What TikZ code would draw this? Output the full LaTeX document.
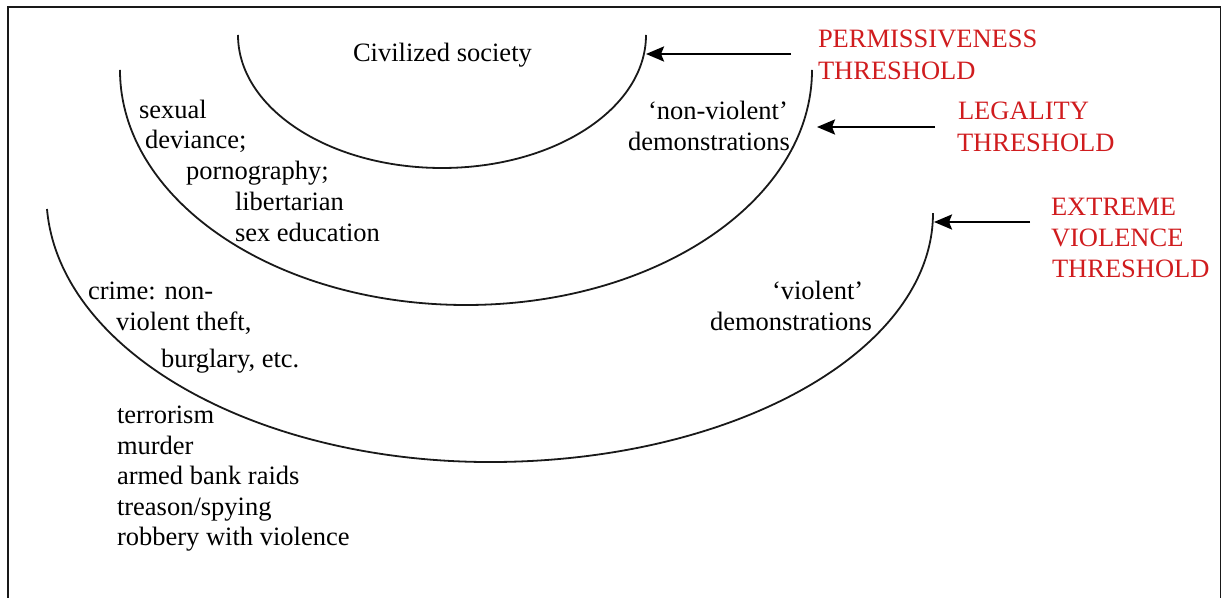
\documentclass[tikz,border=0pt]{standalone}
\usepackage{fontspec}
\setmainfont{Liberation Serif}
\usetikzlibrary{arrows.meta}
\definecolor{thred}{RGB}{208,28,30}
\definecolor{ink}{RGB}{25,25,25}
\begin{document}
\begin{tikzpicture}[x=0.5pt,y=-0.5pt,
  txt/.style={anchor=base west,inner sep=0pt,outer sep=0pt,text=black,
    font=\fontsize{13.25pt}{15.5pt}\selectfont},
  redtxt/.style={txt,text=thred},
  arcline/.style={draw=ink,line width=0.9pt},
  thrarrow/.style={draw=black,line width=1.2pt,-{Stealth[length=9pt,width=7.5pt,inset=1.5pt]}},
  framebox/.style={draw=ink,line width=0.9pt}]
\clip (0,0) rectangle (1225,598);
\fill[white] (0,0) rectangle (1225,598);
\draw[framebox] (8,7) rectangle (1220.5,640);
% threshold curves
\draw[arcline] (238,35) arc[start angle=180,end angle=360,x radius=102pt,y radius=66.5pt];
\draw[arcline] (120,70) arc[start angle=180,end angle=360,x radius=173pt,y radius=117.5pt];
\draw[arcline] (47,209) arc[start angle=183,end angle=270,x radius=221.8pt,y radius=133.5pt]
  arc[start angle=270,end angle=360,x radius=221.5pt,y radius=124.5pt];
% texts
\node[txt] (civ) at (353,62) {Civilized society};
\node[txt] (sexual) at (139,119) {sexual};
\node[txt] (deviance) at (145,149) {deviance;};
\node[txt] (porno) at (186,180) {pornography;};
\node[txt] (libert) at (235,211) {libertarian};
\node[txt] (sexed) at (235,242) {sex education};
\node[txt] (nonviol) at (648,120) {‘non-violent’};
\node[txt] (demoA) at (628,151) {demonstrations};
\node[txt] (crime) at (88,300) {crime: non-};
\node[txt] (theft) at (116,331) {violent theft,};
\node[txt] (burg) at (161,367) {burglary, etc.};
\node[txt] (viol) at (772,300) {‘violent’};
\node[txt] (demoB) at (710,331) {demonstrations};
\node[txt] (terr) at (117,423) {terrorism};
\node[txt] (murd) at (117,454) {murder};
\node[txt] (armed) at (117,484) {armed bank raids};
\node[txt] (treas) at (117,515) {treason/spying};
\node[txt] (robb) at (117,545) {robbery with violence};
% threshold labels
\node[redtxt] (permA) at (818,48) {PERMISSIVENESS};
\node[redtxt] (permB) at (818,80) {THRESHOLD};
\node[redtxt] (legA) at (958,120) {LEGALITY};
\node[redtxt] (legB) at (957,152) {THRESHOLD};
\node[redtxt] (extA) at (1051,216) {EXTREME};
\node[redtxt] (extB) at (1051,247) {VIOLENCE};
\node[redtxt] (extC) at (1052,278) {THRESHOLD};
% arrows
\coordinate (pTail) at (791,54);
\coordinate (pTip) at (646,54);
\coordinate (lTail) at (935,127);
\coordinate (lTip) at (817,127);
\coordinate (eTail) at (1030,222);
\coordinate (eTip) at (934,222);
\draw[thrarrow] (pTail) -- (pTip);
\draw[thrarrow] (lTail) -- (lTip);
\draw[thrarrow] (eTail) -- (eTip);
\end{tikzpicture}
\end{document}
